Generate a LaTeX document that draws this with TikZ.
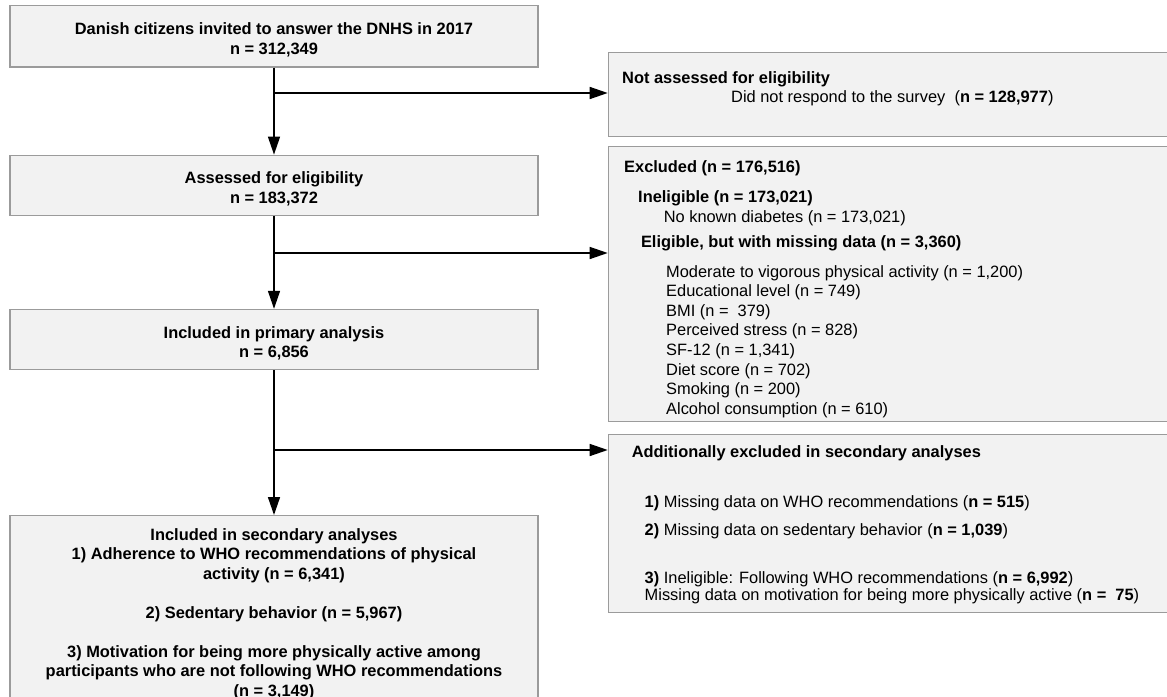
\documentclass[tikz,border=0pt]{standalone}
\usepackage{fontspec}
\setmainfont{Liberation Sans}
\usetikzlibrary{arrows.meta, positioning}
\usepackage{xcolor}
\definecolor{boxfill}{HTML}{F2F2F2}
\definecolor{boxline}{HTML}{9B9B9B}

\begin{document}
\begin{tikzpicture}[x=1pt, y=-1pt,
    box/.style={rectangle, draw=boxline, line width=1.2pt, fill=boxfill, minimum width=528pt, align=center, font=\fontsize{16.4}{19.5}\selectfont\bfseries},
    sidebox/.style={rectangle, draw=boxline, line width=1.2pt, fill=boxfill, minimum width=575pt},
    txt/.style={inner sep=0pt, anchor=base west, align=left, font=\fontsize{16.4}{19.6}\selectfont},
    hd/.style={txt, font=\fontsize{16.4}{19.6}\selectfont\bfseries},
    arrow/.style={-{Triangle[length=18pt, width=12pt]}, line width=1.5pt}]
    \useasboundingbox (0,0) rectangle (1167,696);
    \clip (0,0) rectangle (1167,696);

    % Nodes
    \node (invited) [box, minimum height=61.5pt, text height=39pt] at (274,36.25) {Danish citizens invited to answer the DNHS in 2017\\ n = 312,349};
    \node (assessed) [box, minimum height=60pt, text height=39pt, below=87pt of invited] {Assessed for eligibility\\ n = 183,372};
    \node (primary) [box, minimum height=60pt, text height=39pt, below=93pt of assessed] {Included in primary analysis\\ n = 6,856};
    \node (secondary) [box, minimum height=197pt, below=145pt of primary] {Included in secondary analyses\\
        1) Adherence to WHO recommendations of physical\\
        activity (n = 6,341)\\[19.5pt]
        2) Sedentary behavior (n = 5,967)\\[19.5pt]
        3) Motivation for being more physically active among\\
        participants who are not following WHO recommendations\\
        (n = 3,149)};

    \node (notassessed) [sidebox, minimum height=84pt, anchor=north west] at (607.7,52) {};
    \node (excluded) [sidebox, minimum height=275.5pt, below=8.5pt of notassessed] {};
    \node (additional) [sidebox, minimum height=178pt, below=11.5pt of excluded] {};

    % Side box texts (base = last line)
    \node (nahead) [hd] at (622,83.5) {Not assessed for eligibility};
    \node (nasurvey) [txt] at (731,102.5) {Did not respond to the survey~ (\textbf{n = 128,977})};

    \node (exhead) [hd] at (624,172.5) {Excluded (n = 176,516)};
    \node (exinel) [hd] at (638,202) {Ineligible (n = 173,021)};
    \node (exdiab) [txt] at (663.6,222) {No known diabetes (n = 173,021)};
    \node (exmiss) [hd] at (640.8,247) {Eligible, but with missing data (n = 3,360)};
    \node (exlist) [txt] at (666,414.2) {Moderate to vigorous physical activity (n = 1,200)\\
        Educational level (n = 749)\\
        BMI (n =~ 379)\\
        Perceived stress (n = 828)\\
        SF-12 (n = 1,341)\\
        Diet score (n = 702)\\
        Smoking (n = 200)\\
        Alcohol consumption (n = 610)};

    \node (adhead) [hd] at (631.6,457) {Additionally excluded in secondary analyses};
    \node (adwho) [txt] at (644.5,507) {\textbf{1)} Missing data on WHO recommendations (\textbf{n = 515})};
    \node (adsed) [txt] at (644.5,535.5) {\textbf{2)} Missing data on sedentary behavior (\textbf{n = 1,039})};
    \node (admot) [txt, font=\fontsize{16.4}{17}\selectfont] at (644.5,600.5) {\textbf{3)} Ineligible: Following WHO recommendations (\textbf{n = 6,992})\\
        Missing data on motivation for being more physically active (\textbf{n =~ 75})};

    % Arrows
    \coordinate (split1) at (274,93);
    \coordinate (split2) at (274,253);
    \coordinate (split3) at (274,450);
    \draw[arrow] (invited) -- (assessed);
    \draw[arrow] (assessed) -- (primary);
    \draw[arrow] (primary) -- (secondary);
    \draw[arrow] (split1) -- (split1 -| notassessed.west);
    \draw[arrow] (split2) -- (split2 -| excluded.west);
    \draw[arrow] (split3) -- (split3 -| additional.west);
\end{tikzpicture}
\end{document}
